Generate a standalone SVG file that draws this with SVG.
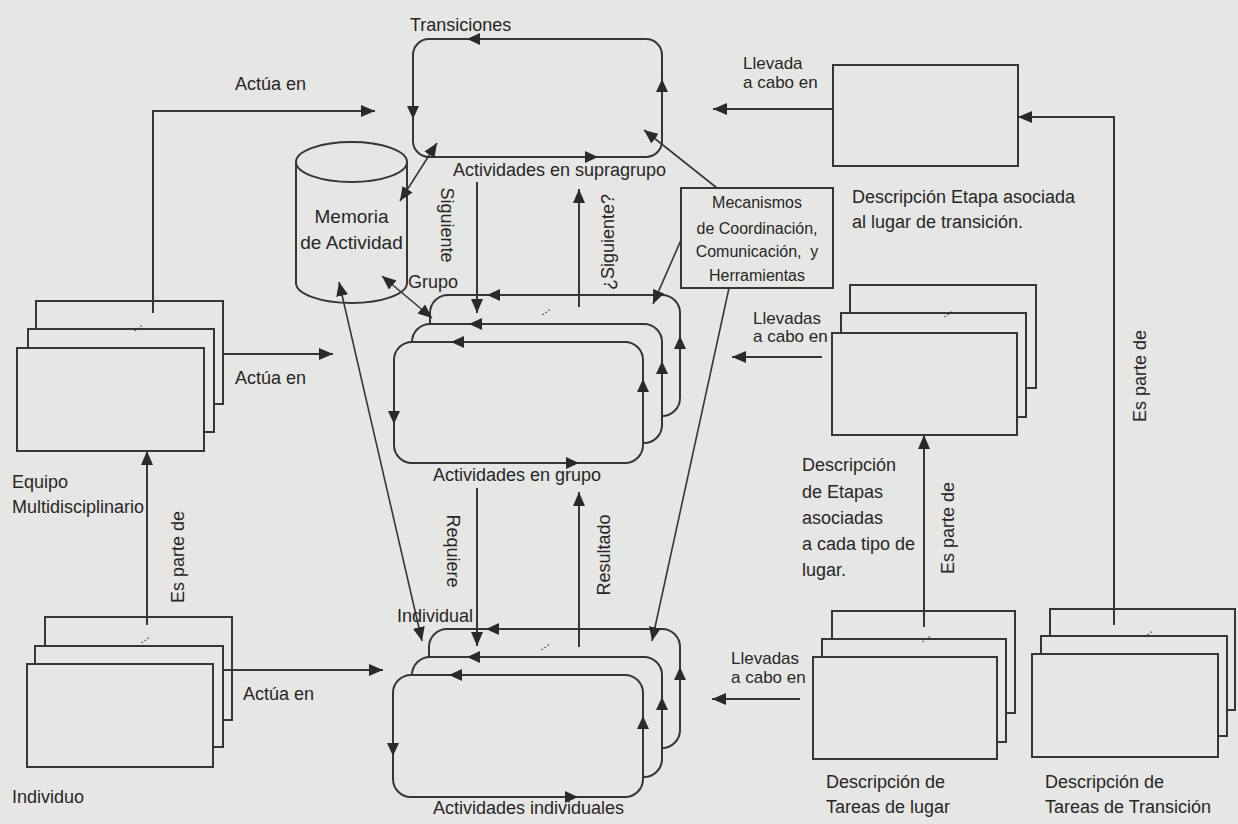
<svg xmlns="http://www.w3.org/2000/svg" xmlns:xlink="http://www.w3.org/1999/xlink" width="1238" height="824" viewBox="0 0 1238 824">
<style>
  text { font-family: "Liberation Sans", Arial, sans-serif; font-size: 18px; fill: #262626; }
  .small { font-size: 16px; }
  .big { font-size: 19px; }
  .lab { font-size: 17px; }
  .dots { font-size: 13px; }
  .box { fill: #e6e6e4; stroke: #363636; stroke-width: 2; }
  .line { fill: none; stroke: #363636; stroke-width: 2; }
  .thin { fill: none; stroke: #363636; stroke-width: 1.6; }
  .ah { fill: #2a2a2a; }
</style>
<defs>
  <path id="ah" d="M0,0 L-13,-6 L-13,6 Z"/>
  <marker id="arr" viewBox="0 0 14 12" refX="14" refY="6" markerWidth="14" markerHeight="12" markerUnits="userSpaceOnUse" orient="auto-start-reverse">
    <path d="M0,0 L14,6 L0,12 Z" fill="#2a2a2a"/>
  </marker>
</defs>
<rect x="0" y="0" width="1238" height="824" fill="#e6e6e4"/>

<!-- Supragroup activities -->
<g id="supragrupo">
  <rect class="box" x="413" y="39" width="249" height="118" rx="16"/>
  <use href="#ah" class="ah" transform="translate(467,39) rotate(180)"/>
  <use href="#ah" class="ah" transform="translate(413,119) rotate(90)"/>
  <use href="#ah" class="ah" transform="translate(598,157)"/>
  <use href="#ah" class="ah" transform="translate(662,79) rotate(-90)"/>
  <text x="410" y="31">Transiciones</text>
  <text x="453" y="176">Actividades en supragrupo</text>
</g>

<!-- Memoria de Actividad -->
<g id="memoria">
  <path class="box" d="M296,162 L296,283 A55.5,20 0 0 0 407,283 L407,162"/>
  <ellipse class="box" cx="351.5" cy="162" rx="55.5" ry="20"/>
  <text class="big" x="351.5" y="223" text-anchor="middle">Memoria</text>
  <text class="big" x="351.5" y="249" text-anchor="middle">de Actividad</text>
</g>

<!-- Mecanismos -->
<g id="mecanismos">
  <rect class="box" x="681" y="188" width="152" height="100"/>
  <text class="small" x="757" y="208" text-anchor="middle">Mecanismos</text>
  <text class="small" x="757" y="234" text-anchor="middle">de Coordinación,</text>
  <text class="small" x="757" y="257" text-anchor="middle">Comunicación,&#160; y</text>
  <text class="small" x="757" y="281" text-anchor="middle">Herramientas</text>
</g>

<!-- Descripción Etapa asociada al lugar de transición -->
<g id="etapa-transicion">
  <rect class="box" x="833" y="65" width="185" height="101"/>
  <text x="852" y="203">Descripción Etapa asociada</text>
  <text x="852" y="228">al lugar de transición.</text>
</g>

<!-- Equipo Multidisciplinario -->
<g id="equipo">
  <rect class="box" x="36" y="301" width="187" height="103"/>
  <rect class="box" x="28" y="329" width="186" height="103"/>
  <rect class="box" x="17" y="348" width="187" height="103"/>
  <text class="dots" transform="translate(134,332) rotate(-35)">...</text>
  <text x="12" y="488">Equipo</text>
  <text x="12" y="513">Multidisciplinario</text>
</g>

<!-- Individuo -->
<g id="individuo">
  <rect class="box" x="45" y="617" width="187" height="103"/>
  <rect class="box" x="35" y="646" width="188" height="101"/>
  <rect class="box" x="27" y="664" width="186" height="103"/>
  <text class="dots" transform="translate(141,644) rotate(-35)">...</text>
  <text x="12" y="803">Individuo</text>
</g>

<!-- Actividades en grupo -->
<g id="grupo">
  <rect class="box" x="430" y="295" width="250" height="121" rx="18"/>
  <rect class="box" x="412" y="324" width="250" height="119" rx="18"/>
  <rect class="box" x="394" y="342" width="249" height="121" rx="18"/>
  <use href="#ah" class="ah" transform="translate(487,295) rotate(180)"/>
  <use href="#ah" class="ah" transform="translate(469,324) rotate(180)"/>
  <use href="#ah" class="ah" transform="translate(451,342) rotate(180)"/>
  <use href="#ah" class="ah" transform="translate(394,424) rotate(90)"/>
  <use href="#ah" class="ah" transform="translate(643,379) rotate(-90)"/>
  <use href="#ah" class="ah" transform="translate(662,361) rotate(-90)"/>
  <use href="#ah" class="ah" transform="translate(680,336) rotate(-90)"/>
  <use href="#ah" class="ah" transform="translate(579,463)"/>
  <text class="dots" transform="translate(542,316) rotate(-35)">...</text>
  <text x="433" y="481">Actividades en grupo</text>
</g>

<!-- Actividades individuales -->
<g id="individuales">
  <rect class="box" x="429" y="629" width="251" height="119" rx="18"/>
  <rect class="box" x="412" y="657" width="250" height="120" rx="18"/>
  <rect class="box" x="393" y="675" width="250" height="122" rx="18"/>
  <use href="#ah" class="ah" transform="translate(486,629) rotate(180)"/>
  <use href="#ah" class="ah" transform="translate(467,657) rotate(180)"/>
  <use href="#ah" class="ah" transform="translate(449,675) rotate(180)"/>
  <use href="#ah" class="ah" transform="translate(393,756) rotate(90)"/>
  <use href="#ah" class="ah" transform="translate(643,716) rotate(-90)"/>
  <use href="#ah" class="ah" transform="translate(662,697) rotate(-90)"/>
  <use href="#ah" class="ah" transform="translate(680,667) rotate(-90)"/>
  <use href="#ah" class="ah" transform="translate(578,797)"/>
  <text class="dots" transform="translate(541,651) rotate(-35)">...</text>
  <text x="433" y="814">Actividades individuales</text>
</g>

<!-- Descripción de Etapas asociadas a cada tipo de lugar -->
<g id="etapas-lugar">
  <rect class="box" x="850" y="285" width="186" height="103"/>
  <rect class="box" x="841" y="313" width="185" height="104"/>
  <rect class="box" x="832" y="333" width="185" height="102"/>
  <text class="dots" transform="translate(944,318) rotate(-35)">...</text>
  <text x="802" y="471">Descripción</text>
  <text x="802" y="498">de Etapas</text>
  <text x="802" y="524">asociadas</text>
  <text x="802" y="550">a cada tipo de</text>
  <text x="802" y="576">lugar.</text>
</g>

<!-- Descripción de Tareas de lugar -->
<g id="tareas-lugar">
  <rect class="box" x="832" y="611" width="183" height="102"/>
  <rect class="box" x="822" y="639" width="184" height="103"/>
  <rect class="box" x="813" y="657" width="184" height="102"/>
  <text class="dots" transform="translate(922,643) rotate(-35)">...</text>
  <text x="826" y="788">Descripción de</text>
  <text x="826" y="813">Tareas de lugar</text>
</g>

<!-- Descripción de Tareas de Transición -->
<g id="tareas-transicion">
  <rect class="box" x="1050" y="609" width="185" height="101"/>
  <rect class="box" x="1041" y="636" width="186" height="100"/>
  <rect class="box" x="1032" y="654" width="186" height="103"/>
  <text class="dots" transform="translate(1144,638) rotate(-35)">...</text>
  <text x="1045" y="788">Descripción de</text>
  <text x="1045" y="813">Tareas de Transición</text>
</g>

<!-- Connectors -->
<g id="connectors">
  <path class="line" d="M153,313 L153,111 L375,111" marker-end="url(#arr)"/>
  <text x="235" y="90">Actúa en</text>
  <path class="line" d="M223,354 L333,354" marker-end="url(#arr)"/>
  <text x="235" y="384">Actúa en</text>
  <path class="line" d="M147,625 L147,451" marker-end="url(#arr)"/>
  <text transform="translate(184,557) rotate(-90)" text-anchor="middle">Es parte de</text>
  <path class="line" d="M223,670 L383,670" marker-end="url(#arr)"/>
  <text x="243" y="700">Actúa en</text>

  <path class="thin" d="M400,201 L437,143" marker-start="url(#arr)" marker-end="url(#arr)"/>
  <path class="thin" d="M382,276 L432,318" marker-start="url(#arr)" marker-end="url(#arr)"/>
  <text x="408" y="288">Grupo</text>
  <path class="thin" d="M339,282 L422,641" marker-start="url(#arr)" marker-end="url(#arr)"/>
  <text x="397" y="622">Individual</text>

  <path class="line" d="M477,182 L477,313" marker-end="url(#arr)"/>
  <text transform="translate(441,225) rotate(90)" text-anchor="middle">Siguiente</text>
  <path class="line" d="M579,307 L579,189" marker-end="url(#arr)"/>
  <text transform="translate(614,242) rotate(-90)" text-anchor="middle">¿Siguiente?</text>

  <path class="line" d="M477,488 L477,646" marker-end="url(#arr)"/>
  <text transform="translate(447,551) rotate(90)" text-anchor="middle">Requiere</text>
  <path class="line" d="M579,647 L579,492" marker-end="url(#arr)"/>
  <text transform="translate(610,555) rotate(-90)" text-anchor="middle">Resultado</text>

  <path class="thin" d="M717,188 L644,130" marker-end="url(#arr)"/>
  <path class="thin" d="M681,240 L653,304" marker-end="url(#arr)"/>
  <path class="thin" d="M729,288 L652,641" marker-end="url(#arr)"/>

  <path class="line" d="M833,109 L713,109" marker-end="url(#arr)"/>
  <text class="lab" x="743" y="69">Llevada</text>
  <text class="lab" x="743" y="88">a cabo en</text>
  <path class="line" d="M822,357 L732,357" marker-end="url(#arr)"/>
  <text class="lab" x="753" y="324">Llevadas</text>
  <text class="lab" x="753" y="342">a cabo en</text>
  <path class="line" d="M800,699 L712,699" marker-end="url(#arr)"/>
  <text class="lab" x="731" y="664">Llevadas</text>
  <text class="lab" x="731" y="683">a cabo en</text>

  <path class="line" d="M924,627 L924,435" marker-end="url(#arr)"/>
  <text transform="translate(954,528) rotate(-90)" text-anchor="middle">Es parte de</text>
  <path class="line" d="M1114,625 L1114,117 L1018,117" marker-end="url(#arr)"/>
  <text transform="translate(1146,376) rotate(-90)" text-anchor="middle">Es parte de</text>
</g>
</svg>
